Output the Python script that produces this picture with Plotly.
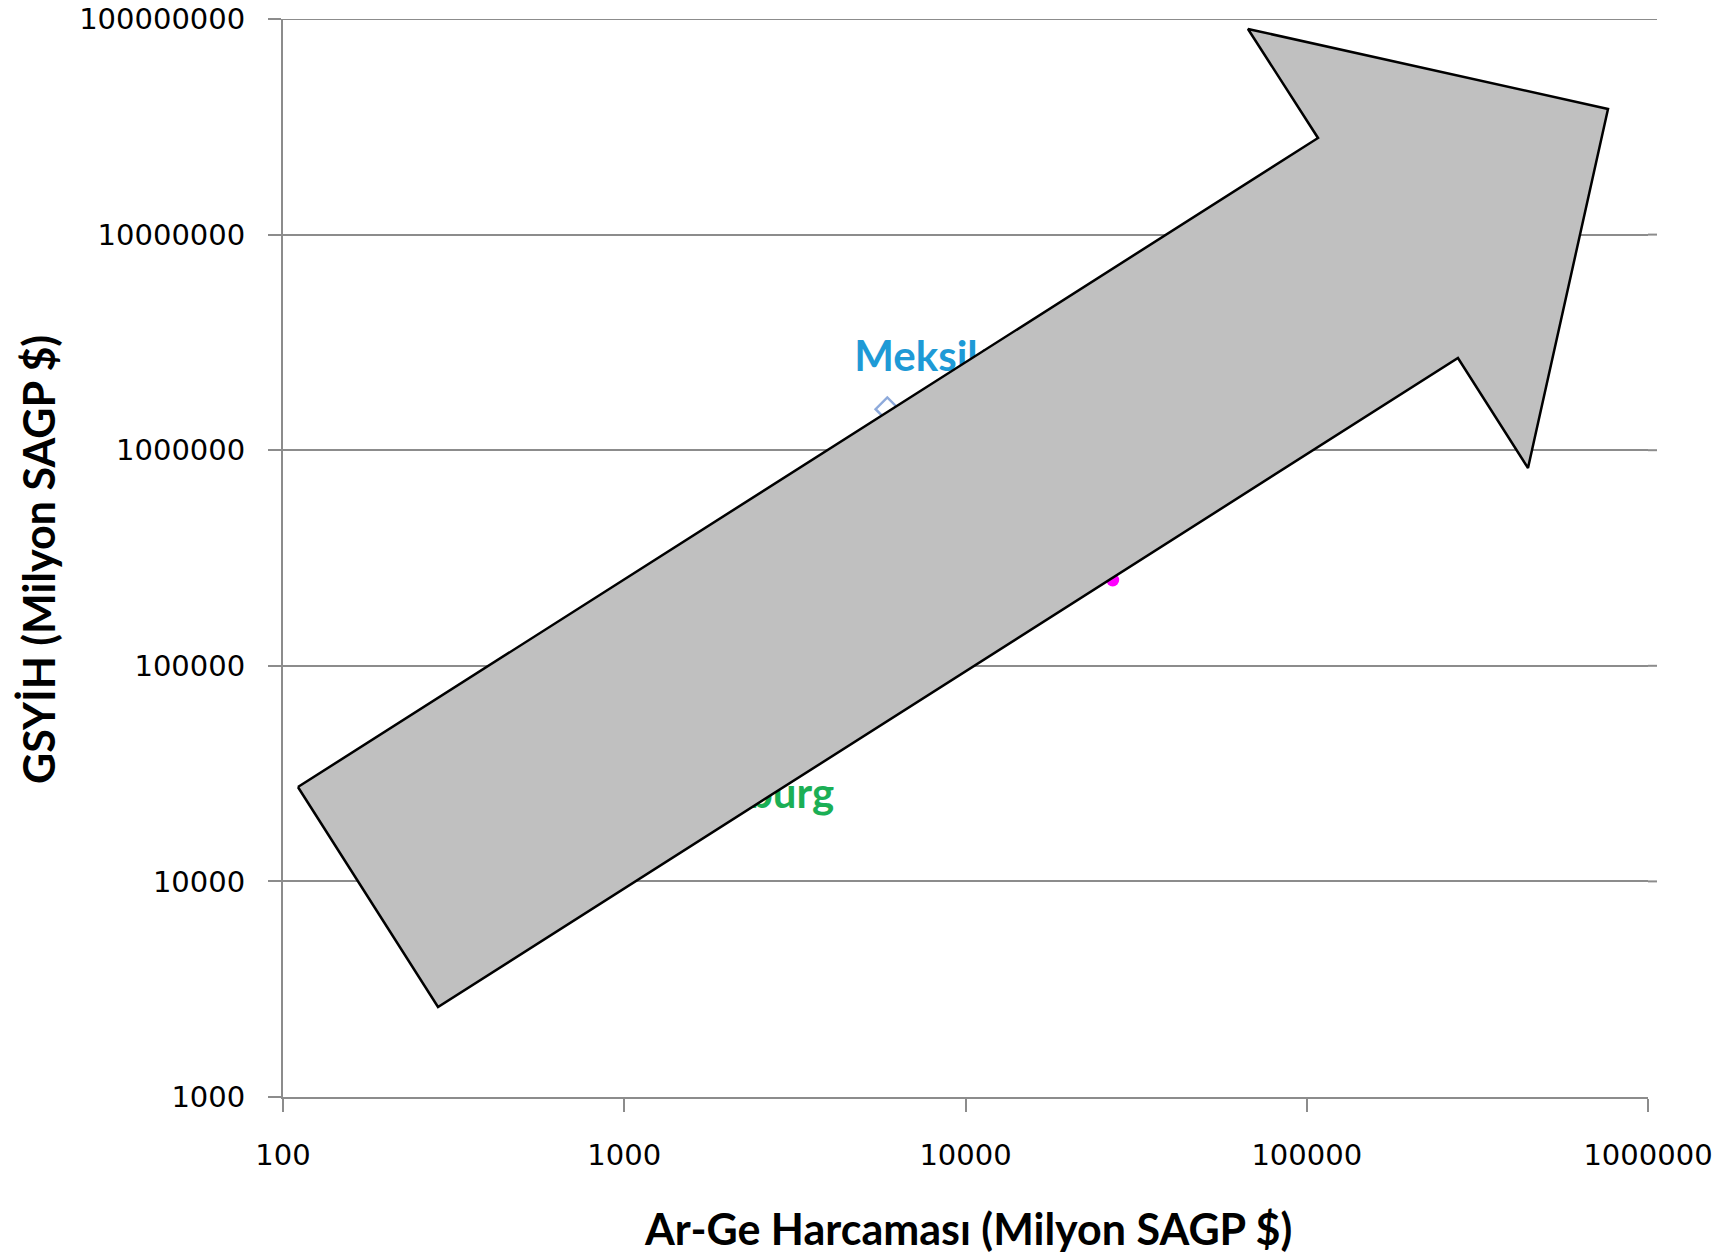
import plotly.graph_objects as go

# R&D spending vs GDP (million PPP $), log-log
mex_x = [5900]
mex_y = [1550000]
mag_x = [27000]
mag_y = [250000]
lux_x = [820]
lux_y = [25000]

# Block arrow outline (data units)
arrow_x = [110.6, 107900, 67260, 763500, 445000, 277400, 284.6, 110.6]
arrow_y = [27400, 28060000, 89870000, 38240000, 826800, 2677000, 2615, 27400]

x_ticks = [100, 1000, 10000, 100000, 1000000]
x_tick_text = ["100", "1000", "10000", "100000", "1000000"]
y_ticks = [1000, 10000, 100000, 1000000, 10000000, 100000000]
y_tick_text = ["1000", "10000", "100000", "1000000", "10000000", "100000000"]

W, H = 1732, 1253
ML, MR, MT, MB = 283, 84, 19, 156
PW, PH = W - ML - MR, H - MT - MB
X_DEC = PW / 4.0
Y_DEC = PH / 5.0
GRID_OVERHANG = 9  # gridlines run a little past the last x tick


def label_at(x, y, dx, dy):
    """Shift a data point by a pixel offset on the log-log axes."""
    return x * 10 ** (dx / X_DEC), y * 10 ** (-dy / Y_DEC)


GRID = "#8c8c8c"
TITLE_FONT = dict(family="Lato", size=43, color="#000000")
LABEL_FAMILY = "Lato"

fig = go.Figure()

fig.add_trace(go.Scatter(
    x=mex_x, y=mex_y, mode="markers",
    marker=dict(symbol="diamond-open", size=18, color="#8EAADB",
                line=dict(width=2.5, color="#8EAADB")),
    showlegend=False, hoverinfo="skip"))

fig.add_trace(go.Scatter(
    x=mag_x, y=mag_y, mode="markers",
    marker=dict(symbol="circle", size=13, color="#FF00FF"),
    showlegend=False, hoverinfo="skip"))

fig.add_trace(go.Scatter(
    x=lux_x, y=lux_y, mode="markers",
    marker=dict(symbol="triangle-up", size=13, color="#1BAF55"),
    showlegend=False, hoverinfo="skip"))

mx, my = label_at(mex_x[0], mex_y[0], -33, -49)
fig.add_trace(go.Scatter(
    x=[mx], y=[my], mode="text", text=["<b>Meksika</b>"],
    textposition="middle right",
    textfont=dict(family=LABEL_FAMILY, size=42, color="#1E9AD6"),
    showlegend=False, hoverinfo="skip"))

lx, ly = label_at(lux_x[0], lux_y[0], 11, 2)
fig.add_trace(go.Scatter(
    x=[lx], y=[ly], mode="text", text=["<b>Lüksemburg</b>"],
    textposition="middle right",
    textfont=dict(family=LABEL_FAMILY, size=42, color="#1BAF55"),
    showlegend=False, hoverinfo="skip"))

# Big grey arrow drawn over the points
fig.add_trace(go.Scatter(
    x=arrow_x, y=arrow_y, mode="lines", fill="toself",
    fillcolor="#C0C0C0", line=dict(color="#000000", width=2.5),
    showlegend=False, hoverinfo="skip"))

axis_common = dict(
    type="log", showline=True, linecolor=GRID, linewidth=2,
    ticks="outside", ticklen=13, tickwidth=2, tickcolor=GRID,
    tickfont=dict(family="DejaVu Sans", size=29, color="#000000"),
    zeroline=False, mirror=False, automargin=False,
)

fig.update_xaxes(
    **axis_common, range=[2, 6], tickvals=x_ticks, ticktext=x_tick_text,
    showgrid=False, ticklabelstandoff=18)
fig.update_yaxes(
    **axis_common, range=[3, 8], tickvals=y_ticks, ticktext=y_tick_text,
    showgrid=True, gridcolor=GRID, gridwidth=2, ticklabelstandoff=17)

# short extension of each horizontal gridline beyond the plot's right edge
for yv in y_ticks[1:]:
    fig.add_shape(
        type="line", xref="paper", yref="y", layer="below",
        x0=1, x1=1 + GRID_OVERHANG / PW, y0=yv, y1=yv,
        line=dict(color=GRID, width=2))
# top gridline sits on the range edge, so draw it across the full width
fig.add_shape(
    type="line", xref="paper", yref="y", layer="below",
    x0=0, x1=1 + GRID_OVERHANG / PW, y0=y_ticks[-1], y1=y_ticks[-1],
    line=dict(color=GRID, width=2))

fig.add_annotation(
    text="<b>Ar-Ge Harcaması (Milyon SAGP $)</b>",
    xref="paper", yref="paper", x=(968 - ML) / PW, y=(MT + PH - 1228) / PH,
    xanchor="center", yanchor="middle", showarrow=False, font=TITLE_FONT)
fig.add_annotation(
    text="<b>GSYİH (Milyon SAGP $)</b>", textangle=-90,
    xref="paper", yref="paper", x=(39 - ML) / PW, y=(MT + PH - 560) / PH,
    xanchor="center", yanchor="middle", showarrow=False, font=TITLE_FONT)

fig.update_layout(
    width=W, height=H,
    margin=dict(l=ML, r=MR, t=MT, b=MB, pad=0, autoexpand=False),
    paper_bgcolor="#FFFFFF", plot_bgcolor="#FFFFFF",
    showlegend=False,
)

fig.write_html("out.html")
